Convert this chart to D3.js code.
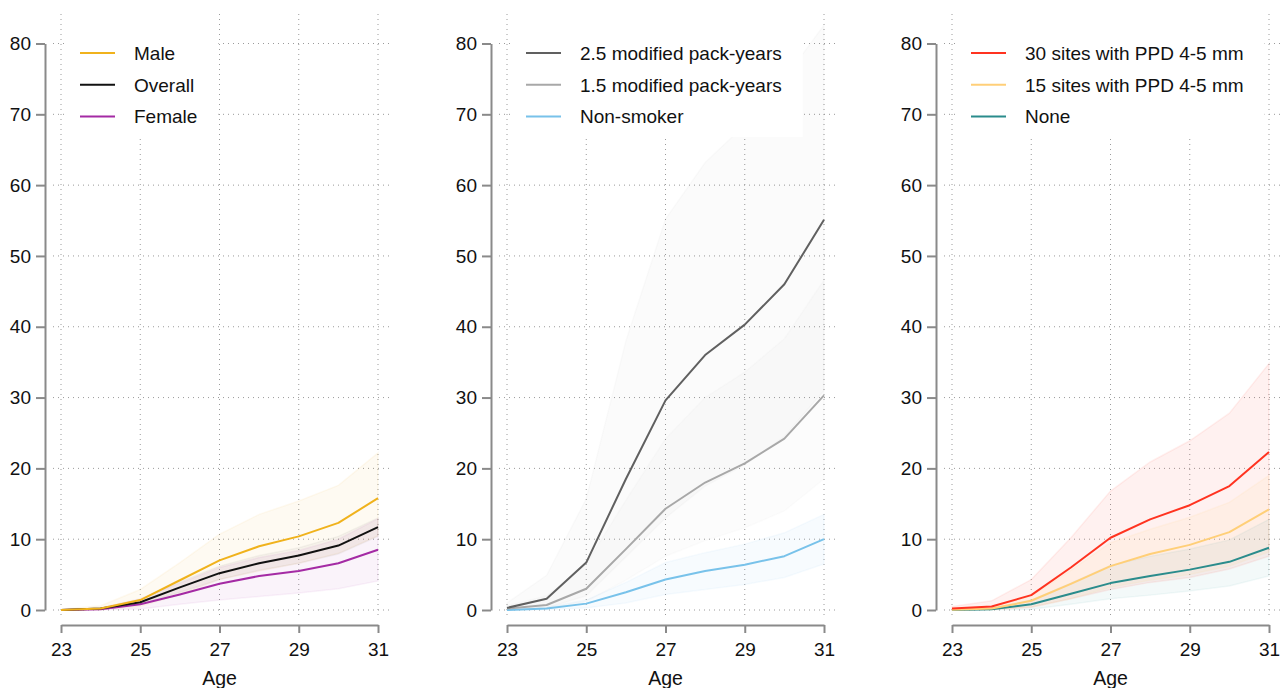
<!DOCTYPE html>
<html>
<head>
<meta charset="utf-8">
<script src="https://cdn.jsdelivr.net/npm/d3@7"></script>
<style>
  body { margin: 0; background: #fff; }
  svg { font-family: "Liberation Sans", Arial, Helvetica, sans-serif; }
</style>
</head>
<body>
<div id="chart"></div>
<script>
// Cumulative incidence by age, three panels

const ages = [23, 24, 25, 26, 27, 28, 29, 30, 31];
const xTicks = [23, 25, 27, 29, 31];
const yTicks = [0, 10, 20, 30, 40, 50, 60, 70, 80];

// panel 1: sex
const maleEst = [0, 0.2, 1.4, 4.2, 7.0, 9.0, 10.4, 12.3, 15.8];
const maleHi = [0.1, 0.6, 2.9, 6.7, 10.7, 13.5, 15.4, 17.6, 22.2];
const maleLo = [0, 0.05, 0.5, 2.2, 4.3, 5.5, 6.6, 8.0, 10.5];
const overallEst = [0, 0.2, 1.1, 3.2, 5.2, 6.6, 7.7, 9.1, 11.7];
const overallHi = [0, 0.3, 1.5, 4.0, 6.2, 7.7, 8.8, 10.4, 13.0];
const overallLo = [0, 0.1, 0.8, 2.5, 4.3, 5.6, 6.6, 7.9, 10.4];
const femaleEst = [0, 0.1, 0.8, 2.2, 3.7, 4.8, 5.5, 6.6, 8.5];
const femaleHi = [0, 0.3, 1.6, 3.8, 6.0, 7.4, 8.4, 10.0, 12.9];
const femaleLo = [0, 0.02, 0.15, 0.8, 1.4, 1.9, 2.4, 3.0, 4.1];

// panel 2: smoking
const heavyEst = [0.3, 1.6, 6.7, 18.5, 29.6, 36.0, 40.3, 46.0, 55.1];
const heavyHi = [1.0, 4.9, 15.7, 38.0, 55.2, 63.2, 68.5, 75.0, 82.6];
const heavyLo = [0, 0.3, 2.0, 7.5, 13.0, 17.5, 20.5, 24.5, 31.0];
const modEst = [0.2, 0.7, 3.0, 8.6, 14.3, 18.0, 20.7, 24.2, 30.3];
const modHi = [0.6, 2.0, 6.5, 15.5, 24.2, 30.0, 33.6, 38.3, 46.6];
const modLo = [0, 0.2, 1.2, 4.2, 7.6, 9.8, 11.6, 14.0, 18.5];
const nonEst = [0, 0.2, 0.9, 2.5, 4.3, 5.5, 6.4, 7.6, 10.0];
const nonHi = [0.05, 0.4, 1.4, 3.9, 6.7, 8.1, 9.3, 10.9, 13.5];
const nonLo = [0, 0.05, 0.3, 1.0, 2.2, 2.9, 3.6, 4.6, 6.5];

// panel 3: periodontal pockets
const ppd30Est = [0.2, 0.5, 2.1, 6.0, 10.2, 12.8, 14.8, 17.5, 22.3];
const ppd30Hi = [0.5, 1.3, 4.3, 10.2, 16.8, 20.9, 23.9, 27.8, 34.8];
const ppd30Lo = [0, 0.1, 0.4, 1.6, 2.9, 3.9, 4.6, 5.8, 7.6];
const ppd15Est = [0.05, 0.2, 1.3, 3.7, 6.2, 7.9, 9.2, 11.0, 14.2];
const ppd15Hi = [0.2, 0.5, 2.0, 5.6, 9.5, 11.4, 13.1, 15.2, 19.0];
const ppd15Lo = [0, 0.05, 0.4, 1.6, 3.2, 4.2, 5.0, 6.2, 8.2];
const noneEst = [0, 0.1, 0.8, 2.3, 3.8, 4.8, 5.7, 6.8, 8.8];
const noneHi = [0.05, 0.25, 1.4, 3.8, 6.3, 7.6, 8.6, 9.9, 12.8];
const noneLo = [0, 0.02, 0.1, 0.8, 1.6, 2.1, 2.7, 3.4, 4.8];

const panels = [
  { x0: 61, series: [
    { name: "Male", est: maleEst, lo: maleLo, hi: maleHi, color: "#f0b21c", band: 0.06 },
    { name: "Overall", est: overallEst, lo: overallLo, hi: overallHi, color: "#111111", band: 0.035 },
    { name: "Female", est: femaleEst, lo: femaleLo, hi: femaleHi, color: "#a42aa4", band: 0.055 }
  ]},
  { x0: 507, series: [
    { name: "2.5 modified pack-years", est: heavyEst, lo: heavyLo, hi: heavyHi, color: "#606060", band: 0.025 },
    { name: "1.5 modified pack-years", est: modEst, lo: modLo, hi: modHi, color: "#a8a8a8", band: 0.03 },
    { name: "Non-smoker", est: nonEst, lo: nonLo, hi: nonHi, color: "#78c2ea", band: 0.06 }
  ]},
  { x0: 952, series: [
    { name: "30 sites with PPD 4-5 mm", est: ppd30Est, lo: ppd30Lo, hi: ppd30Hi, color: "#ff3320", band: 0.065 },
    { name: "15 sites with PPD 4-5 mm", est: ppd15Est, lo: ppd15Lo, hi: ppd15Hi, color: "#ffcf78", band: 0.09 },
    { name: "None", est: noneEst, lo: noneLo, hi: noneHi, color: "#2a8c8c", band: 0.055 }
  ]}
];

const W = 1288, H = 688;
const plotW = 317;
const gridColor = "#9a9a9a", axisColor = "#8a8a8a";

const svg = d3.select("#chart").append("svg")
  .attr("width", W).attr("height", H);

const y = d3.scaleLinear().domain([0, 80]).range([610, 43.5]);

panels.forEach(p => {
  const x = d3.scaleLinear().domain([23, 31]).range([p.x0, p.x0 + plotW]);
  const g = svg.append("g");

  // gridlines
  g.selectAll(".hgrid").data(yTicks).enter().append("line")
    .attr("x1", p.x0 - 8).attr("x2", p.x0 + plotW + 15)
    .attr("y1", d => y(d)).attr("y2", d => y(d))
    .attr("stroke", gridColor).attr("stroke-width", 1)
    .attr("stroke-dasharray", "1,4");
  g.selectAll(".vgrid").data(xTicks).enter().append("line")
    .attr("x1", d => x(d)).attr("x2", d => x(d))
    .attr("y1", 14).attr("y2", 618)
    .attr("stroke", gridColor).attr("stroke-width", 1)
    .attr("stroke-dasharray", "1,4");

  // confidence bands
  const area = d3.area()
    .x((d, i) => x(ages[i]))
    .y0(d => y(d[0]))
    .y1(d => y(d[1]));
  p.series.forEach(s => {
    g.append("path")
      .datum(ages.map((a, i) => [s.lo[i], s.hi[i]]))
      .attr("d", area)
      .attr("fill", s.color)
      .attr("fill-opacity", s.band)
      .attr("stroke", s.color)
      .attr("stroke-opacity", s.band)
      .attr("stroke-width", 1.5);
  });

  // estimate lines
  const line = d3.line()
    .x((d, i) => x(ages[i]))
    .y(d => y(d));
  p.series.slice().reverse().forEach(s => {
    g.append("path")
      .datum(s.est)
      .attr("d", line)
      .attr("fill", "none")
      .attr("stroke", s.color)
      .attr("stroke-width", 2)
      .attr("stroke-linejoin", "round");
  });

  // legend
  const leg = g.append("g");
  const box = leg.append("rect")
    .attr("x", p.x0 + 7).attr("y", 8)
    .attr("height", 129).attr("fill", "#fff");
  let maxLen = 0;
  p.series.forEach((s, i) => {
    const ly = 53 + i * 31.7;
    leg.append("line")
      .attr("x1", p.x0 + 19).attr("x2", p.x0 + 54)
      .attr("y1", ly).attr("y2", ly)
      .attr("stroke", s.color).attr("stroke-width", 2);
    const t = leg.append("text")
      .attr("x", p.x0 + 73).attr("y", ly + 7)
      .attr("font-size", 19).attr("fill", "#111")
      .text(s.name);
    maxLen = Math.max(maxLen, t.node().getComputedTextLength());
  });
  box.attr("width", 73 + maxLen + 21 - 7);

  // axes
  const yAxis = g.append("g")
    .attr("transform", `translate(${p.x0 - 16},0)`)
    .call(d3.axisLeft(y).tickValues(yTicks).tickSize(9).tickSizeOuter(0).tickPadding(5));
  const xAxis = g.append("g")
    .attr("transform", "translate(0,625)")
    .call(d3.axisBottom(x).tickValues(xTicks).tickSize(8).tickSizeOuter(0).tickPadding(10));
  [yAxis, xAxis].forEach(a => {
    a.select(".domain").attr("stroke", axisColor).attr("stroke-width", 2);
    a.selectAll(".tick line").attr("stroke", axisColor).attr("stroke-width", 2);
    a.selectAll(".tick text")
      .attr("font-size", 19)
      .attr("font-family", "Liberation Sans, Arial, sans-serif")
      .attr("fill", "#111");
  });

  g.append("text")
    .attr("x", p.x0 + plotW / 2).attr("y", 685)
    .attr("text-anchor", "middle")
    .attr("font-size", 19.5).attr("fill", "#111")
    .text("Age");
});
</script>
</body>
</html>
